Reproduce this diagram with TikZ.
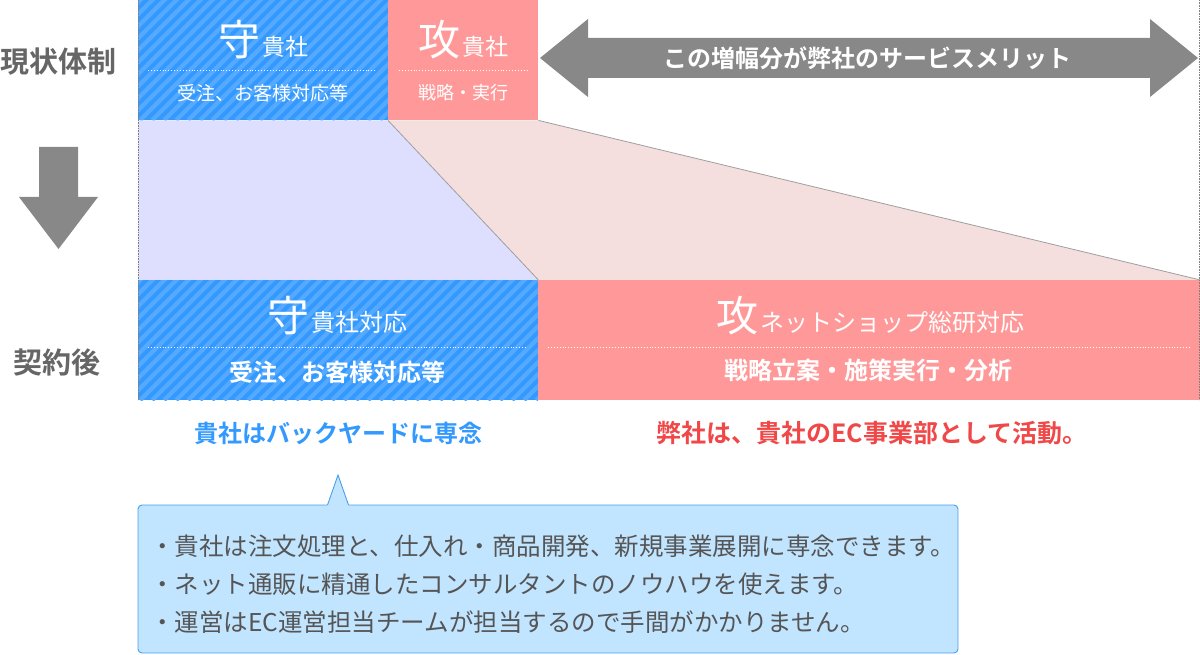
\documentclass[tikz,border=0pt]{standalone}
\usepackage{fontspec}
\setmainfont{Noto Sans CJK JP}[BoldFont={* Bold}]
\usetikzlibrary{positioning}

\definecolor{defblue}{HTML}{3399FF}
\definecolor{defstripe}{HTML}{55AAFF}
\definecolor{atkpink}{HTML}{FF9999}
\definecolor{lavender}{HTML}{DEDEFF}
\definecolor{pinklight}{HTML}{F5DEDE}
\definecolor{arrowgray}{HTML}{888888}
\definecolor{labelgray}{HTML}{666666}
\definecolor{notegray}{HTML}{555555}
\definecolor{noteblue}{HTML}{C2E5FF}
\definecolor{noteedge}{HTML}{4A9EEA}
\definecolor{usblue}{HTML}{3399FF}
\definecolor{usred}{HTML}{F04848}

\begin{document}
\begin{tikzpicture}[
        x=1pt, y=-1pt,
        defbox/.style={fill=defblue, inner sep=0pt, anchor=north west,
            path picture={\foreach \k in {0,...,46} {\draw[defstripe, line width=4.2pt] ([xshift=\k*12pt-130pt]path picture bounding box.south west) -- ++(520pt,520pt);}}},
        atkbox/.style={fill=atkpink, inner sep=0pt, anchor=north west},
        title/.style={text=white, inner sep=0pt},
        subtitle/.style={text=white, inner sep=0pt, font=\fontsize{19}{19}\selectfont},
        subbold/.style={text=white, inner sep=0pt, font=\bfseries\fontsize{24}{24}\selectfont},
        sepline/.style={white, dotted, line width=0.9pt},
        side/.style={labelgray, inner sep=0pt, font=\bfseries\fontsize{29}{29}\selectfont},
        edgeline/.style={gray!75, line width=0.8pt},
        frameline/.style={gray, densely dotted, line width=0.6pt},
        result/.style={inner sep=0pt, font=\bfseries\fontsize{24}{24}\selectfont}
    ]
    \useasboundingbox (0,0) rectangle (1200,655);

    % Boxes - before and after
    \node[defbox, minimum width=250pt, minimum height=120pt] (defnow) at (138,0) {};
    \node[atkbox, minimum width=150pt, minimum height=120pt] (atknow) at (388,0) {};
    \node[defbox, minimum width=400pt, minimum height=120pt] (defnew) at (138,280) {};
    \node[atkbox, minimum width=662pt, minimum height=120pt] (atknew) at (538,280) {};

    % Widening bands
    \fill[lavender] (defnow.south west) -- (defnow.south east) -- (defnew.north east) -- (defnew.north west) -- cycle;
    \fill[pinklight] (atknow.south west) -- (atknow.south east) -- (atknew.north east) -- (defnew.north east) -- cycle;
    \draw[edgeline] (atknow.south west) -- (defnew.north east);
    \draw[edgeline] (atknow.south east) -- (atknew.north east);
    \draw[frameline] (138,0) -- (138,400);
    \draw[frameline] (1199.5,0) -- (1199.5,400);

    % Texts in boxes
    \node[title] (defnowtitle) at (263,40) {{\fontsize{42}{42}\selectfont 守}\hspace{2pt}{\fontsize{23}{23}\selectfont 貴社}};
    \draw[sepline] (148,70.5) -- (377,70.5);
    \node[subtitle] (defnowsub) at (263,93) {受注、お客様対応等};

    \node[title] (atknowtitle) at (463,40) {{\fontsize{42}{42}\selectfont 攻}\hspace{2pt}{\fontsize{23}{23}\selectfont 貴社}};
    \draw[sepline] (399,70.5) -- (528,70.5);
    \node[subtitle, font=\fontsize{18}{18}\selectfont] (atknowsub) at (463,93) {戦略・実行};

    \node[title] (defnewtitle) at (337,316) {{\fontsize{42}{42}\selectfont 守}\hspace{2pt}{\fontsize{24}{24}\selectfont 貴社対応}};
    \draw[sepline] (148,347) -- (527,347);
    \node[subbold] (defnewsub) at (337,372) {受注、お客様対応等};

    \node[title] (atknewtitle) at (870,316) {{\fontsize{42}{42}\selectfont 攻}\hspace{2pt}{\fontsize{24}{24}\selectfont ネットショップ総研対応}};
    \draw[sepline] (548,347) -- (1190,347);
    \node[subbold] (atknewsub) at (868,370) {戦略立案・施策実行・分析};

    % Double arrow
    \fill[arrowgray] (540,58) -- (588,19) -- (588,38) -- (1150,38) -- (1150,19) -- (1198,58)
        -- (1150,97) -- (1150,78) -- (588,78) -- (588,97) -- cycle;
    \node[subbold] (merit) at (867,58) {この増幅分が弊社のサービスメリット};

    % Left side
    \node[side] (nowlabel) at (59,62) {現状体制};
    \fill[arrowgray] (39,147) -- (78,147) -- (78,197) -- (98,197) -- (58.5,249) -- (19,197) -- (39,197) -- cycle;
    \node[side] (newlabel) at (57,362) {契約後};

    % Results
    \node[result, usblue] (defresult) at (338,433) {貴社はバックヤードに専念};
    \node[result, usred, font=\bfseries\fontsize{25}{25}\selectfont] (atkresult) at (872,433) {弊社は、貴社のEC事業部として活動。};

    % Callout
    \draw[noteedge, fill=noteblue, line width=0.9pt, rounded corners=4pt] (138,505) rectangle (958,653);
    \fill[noteblue] (327,506.5) -- (338,475) -- (349,506.5) -- cycle;
    \draw[noteedge, line width=0.9pt] (327.5,505) -- (338,475) -- (348.5,505);
    \node[notegray, anchor=west, align=left, inner sep=0pt, font=\fontsize{24.5}{38}\selectfont] (notes) at (150,584)
        {・貴社は注文処理と、仕入れ・商品開発、新規事業展開に専念できます。\\
         ・ネット通販に精通したコンサルタントのノウハウを使えます。\\
         ・運営はEC運営担当チームが担当するので手間がかかりません。};

\end{tikzpicture}
\end{document}
